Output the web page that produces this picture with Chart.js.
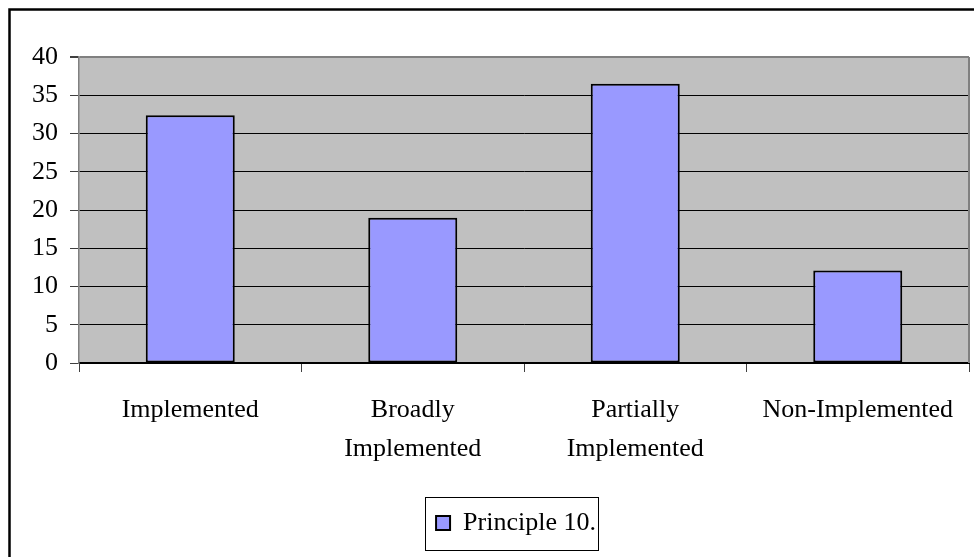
<!DOCTYPE html>
<html>
<head>
<meta charset="utf-8">
<script src="https://cdn.jsdelivr.net/npm/chart.js@4"></script>
<style>
  html, body { margin: 0; padding: 0; background: #ffffff; font-family: "Liberation Serif", serif; }
  #wrap { width: 974px; height: 557px; }
</style>
</head>
<body>
<div id="wrap"><canvas id="c" width="974" height="557"></canvas></div>
<script>
// Implementation status of Principle 10 (percent of responses)
const categories = ['Implemented', ['Broadly', 'Implemented'], ['Partially', 'Implemented'], 'Non-Implemented'];
const seriesName = 'Principle 10.';
const seriesValues = [32.4, 19.0, 36.5, 12.1];
const yTicks = [0, 5, 10, 15, 20, 25, 30, 35, 40];

const FONT = '"Liberation Serif", serif';
Chart.defaults.font.family = FONT;

// Grey plot area, grey top/right frame, outer black frame, legend box
const framePlugin = {
  id: 'frame',
  afterLayout(chart) {
    // place the legend under the plot centre, inside its box
    const lg = chart.legend;
    const a = chart.chartArea;
    const dx = (a.left + a.right) / 2 - 8 - (lg.left + lg.right) / 2;
    lg.left += dx; lg.right += dx;
    const dy = 523 - (lg.top + lg.height / 2);
    lg.top += dy; lg.bottom += dy;
  },
  beforeDraw(chart) {
    const { ctx, chartArea: a } = chart;
    ctx.save();
    ctx.fillStyle = '#ffffff';
    ctx.fillRect(0, 0, chart.width, chart.height);
    ctx.fillStyle = '#c0c0c0';
    ctx.fillRect(a.left, a.top, a.right - a.left, a.bottom - a.top);
    ctx.restore();
  },
  afterDraw(chart) {
    const { ctx, chartArea: a } = chart;
    ctx.save();
    // right edge of the plot area
    ctx.strokeStyle = '#808080';
    ctx.lineWidth = 2;
    ctx.beginPath();
    ctx.moveTo(a.right, a.top);
    ctx.lineTo(a.right, a.bottom);
    ctx.stroke();
    // outer frame (top and left)
    ctx.strokeStyle = '#000000';
    ctx.lineWidth = 2.5;
    ctx.beginPath();
    ctx.moveTo(9.5, chart.height);
    ctx.lineTo(9.5, 9.5);
    ctx.lineTo(chart.width, 9.5);
    ctx.stroke();
    // frame around the legend
    const hb = chart.legend.legendHitBoxes[0];
    if (hb) {
      const cy = hb.top + hb.height / 2;
      ctx.lineWidth = 1;
      ctx.strokeRect(Math.round(hb.left - 11) + 0.5, Math.round(cy - 26.5) + 0.5,
                     Math.round(hb.width + 13), 53);
    }
    ctx.restore();
  }
};

new Chart(document.getElementById('c'), {
  type: 'bar',
  data: {
    labels: categories,
    datasets: [{
      label: seriesName,
      data: seriesValues,
      backgroundColor: '#9999ff',
      borderColor: '#000000',
      borderWidth: 2,
      borderSkipped: false,
      categoryPercentage: 1,
      barPercentage: 0.4
    }]
  },
  options: {
    responsive: false,
    animation: false,
    devicePixelRatio: 1,
    layout: { padding: { top: 57, right: 5, left: 0, bottom: 0 } },
    plugins: {
      tooltip: { enabled: false },
      legend: {
        position: 'bottom',
        labels: {
          font: { family: FONT, size: 26 },
          color: '#000000',
          boxWidth: 14,
          boxHeight: 14,
          padding: 10
        }
      }
    },
    scales: {
      x: {
        offset: true,
        grid: {
          offset: true,
          drawOnChartArea: false,
          drawTicks: true,
          tickLength: 9,
          color: '#404040',
          lineWidth: 1
        },
        border: { display: true, color: '#000000', width: 2 },
        ticks: {
          font: { family: FONT, size: 26, lineHeight: 1.5 },
          color: '#000000',
          padding: 19,
          maxRotation: 0,
          autoSkip: false
        },
        afterFit(scale) { scale.height = 148; }
      },
      y: {
        min: 0,
        max: 40,
        afterBuildTicks(scale) { scale.ticks = yTicks.map(v => ({ value: v })); },
        grid: {
          color: (c) => (c.tick && c.tick.value === 40 ? '#808080' : '#000000'),
          lineWidth: (c) => (c.tick && c.tick.value === 40 ? 2 : 1),
          tickLength: 9,
          tickColor: '#404040'
        },
        border: { display: true, color: '#808080', width: 1.5 },
        ticks: {
          font: { family: FONT, size: 26 },
          color: '#000000',
          padding: 12
        },
        afterFit(scale) { scale.width = 79; }
      }
    }
  },
  plugins: [framePlugin]
});
</script>
</body>
</html>
